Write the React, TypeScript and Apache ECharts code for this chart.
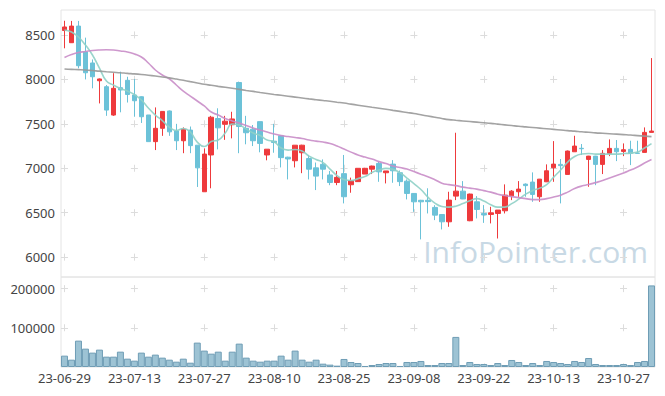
import { useEffect, useRef } from "react";
import * as echarts from "echarts";

const dates = [
  "23-06-29", "23-06-30", "23-07-03", "23-07-04", "23-07-05", "23-07-06", "23-07-07", "23-07-10", "23-07-11", "23-07-12",
  "23-07-13", "23-07-14", "23-07-17", "23-07-18", "23-07-19", "23-07-20", "23-07-21", "23-07-24", "23-07-25", "23-07-26",
  "23-07-27", "23-07-28", "23-07-31", "23-08-01", "23-08-02", "23-08-03", "23-08-04", "23-08-07", "23-08-08", "23-08-09",
  "23-08-10", "23-08-11", "23-08-14", "23-08-16", "23-08-17", "23-08-18", "23-08-21", "23-08-22", "23-08-23", "23-08-24",
  "23-08-25", "23-08-28", "23-08-29", "23-08-30", "23-08-31", "23-09-01", "23-09-04", "23-09-05", "23-09-06", "23-09-07",
  "23-09-08", "23-09-11", "23-09-12", "23-09-13", "23-09-14", "23-09-15", "23-09-18", "23-09-19", "23-09-20", "23-09-21",
  "23-09-22", "23-09-25", "23-09-26", "23-09-27", "23-10-04", "23-10-05", "23-10-06", "23-10-10", "23-10-11", "23-10-12",
  "23-10-13", "23-10-16", "23-10-17", "23-10-18", "23-10-19", "23-10-20", "23-10-23", "23-10-24", "23-10-25", "23-10-26",
  "23-10-27", "23-10-30", "23-10-31", "23-11-01", "23-11-02",
];

// [open, close, low, high]
const candles = [
  [8550, 8590, 8350, 8660], [8413, 8600, 8410, 8658], [8600, 8154, 8125, 8658], [8310, 8075, 8000, 8470], [8185, 8030, 7900, 8225],
  [7985, 8005, 7730, 8010], [7918, 7655, 7590, 7937], [7599, 7900, 7590, 8070], [7907, 7881, 7630, 8087], [7990, 7830, 7740, 8030],
  [7825, 7760, 7580, 8005], [7805, 7580, 7510, 7810], [7600, 7300, 7300, 7600], [7300, 7450, 7205, 7685], [7450, 7640, 7365, 7640],
  [7645, 7410, 7365, 7650], [7420, 7310, 7205, 7500], [7310, 7440, 7170, 7460], [7430, 7255, 7170, 7470], [7260, 7005, 6790, 7260],
  [6736, 7160, 6736, 7224], [7150, 7575, 6775, 7590], [7560, 7455, 7213, 7675], [7495, 7530, 7320, 7590], [7490, 7555, 7337, 7636],
  [7965, 7470, 7170, 7975], [7450, 7400, 7270, 7590], [7440, 7310, 7250, 7487], [7525, 7280, 7180, 7525], [7150, 7215, 7090, 7215],
  [7305, 7290, 7175, 7500], [7365, 7120, 7010, 7370], [7125, 7105, 6875, 7130], [7085, 7260, 7010, 7260], [7175, 7260, 6945, 7265],
  [7110, 6990, 6875, 7150], [7005, 6912, 6755, 7065], [7045, 6990, 6875, 7100], [6925, 6840, 6810, 6970], [6840, 6898, 6810, 6970],
  [6940, 6680, 6605, 7150], [6815, 6860, 6725, 6895], [6850, 7000, 6848, 7000], [6935, 7000, 6935, 7005], [6990, 7025, 6935, 7030],
  [7055, 6960, 6848, 7075], [6950, 6970, 6830, 6970], [7047, 6972, 6837, 7092], [6950, 6850, 6800, 6975], [6855, 6717, 6650, 6875],
  [6717, 6623, 6510, 6720], [6640, 6623, 6200, 6645], [6640, 6625, 6492, 6775], [6560, 6473, 6417, 6585], [6480, 6398, 6312, 6485],
  [6398, 6642, 6342, 6736], [6687, 6743, 6642, 7400], [6743, 6655, 6653, 6856], [6410, 6710, 6405, 6715], [6623, 6537, 6436, 6687],
  [6492, 6475, 6386, 6586], [6481, 6499, 6380, 6567], [6492, 6530, 6210, 6530], [6522, 6698, 6492, 6819], [6690, 6743, 6642, 6755],
  [6736, 6766, 6679, 6856], [6822, 6805, 6680, 6830], [6845, 6706, 6623, 6954], [6680, 6878, 6623, 6880], [6848, 6972, 6845, 7044],
  [7006, 7047, 6848, 7306], [7044, 7030, 6605, 7104], [6931, 7194, 6930, 7200], [7186, 7250, 7186, 7366], [7225, 7220, 7149, 7273],
  [7100, 7137, 6792, 7140], [7137, 7044, 6810, 7140], [7044, 7168, 6935, 7205], [7168, 7224, 7137, 7325], [7224, 7186, 7081, 7318],
  [7190, 7209, 7137, 7280], [7213, 7168, 7036, 7310], [7172, 7168, 7165, 7310], [7179, 7404, 7179, 7460], [7404, 7419, 7404, 8240],
];

const volumes = [
  29000, 18700, 67400, 46900, 36700, 44400, 26400, 26400, 39200, 21300,
  16200, 36700, 26400, 31600, 23900, 18700, 13600, 21300, 11000, 62300,
  41900, 34100, 39200, 16200, 39200, 59700, 23900, 16200, 13600, 16200,
  16200, 29000, 18700, 41900, 18700, 13600, 18700, 8500, 6000, 3400,
  20500, 12800, 10200, 2600, 5100, 7700, 10200, 10200, 2600, 12800,
  12800, 15400, 5100, 5100, 10200, 10200, 76900, 5100, 12800, 7700,
  7700, 5100, 10200, 5100, 17900, 12800, 5100, 10200, 5100, 15400,
  12800, 10200, 7700, 15400, 12800, 23000, 7700, 5100, 5100, 5100,
  7700, 5100, 12800, 15400, 208500,
];

const ma5 = [
  8556, 8534, 8477, 8387, 8275, 8128, 7982, 7937, 7898, 7869,
  7830, 7768, 7678, 7599, 7537, 7464, 7425, 7447, 7408, 7295,
  7245, 7301, 7318, 7397, 7498, 7487, 7441, 7397, 7368, 7318,
  7299, 7228, 7205, 7211, 7194, 7137, 7100, 7064, 6991, 6918,
  6873, 6862, 6884, 6907, 6952, 6980, 6999, 6988, 6952, 6890,
  6828, 6761, 6676, 6609, 6570, 6563, 6574, 6603, 6634, 6659,
  6631, 6591, 6563, 6563, 6603, 6653, 6709, 6749, 6777, 6816,
  6901, 6980, 7070, 7132, 7160, 7166, 7160, 7160, 7160, 7160,
  7166, 7171, 7183, 7228, 7278,
];

const ma20 = [
  8247, 8280, 8303, 8314, 8325, 8331, 8333, 8331, 8320, 8309,
  8286, 8252, 8185, 8106, 8050, 8005, 7937, 7869, 7813, 7757,
  7701, 7633, 7599, 7560, 7532, 7509, 7481, 7453, 7430, 7408,
  7385, 7368, 7357, 7346, 7335, 7318, 7306, 7295, 7278, 7250,
  7216, 7182, 7149, 7126, 7104, 7075, 7053, 7025, 7008, 6991,
  6963, 6934, 6906, 6872, 6833, 6816, 6805, 6788, 6777, 6766,
  6749, 6732, 6709, 6693, 6681, 6670, 6659, 6648, 6648, 6659,
  6676, 6698, 6732, 6772, 6800, 6817, 6839, 6862, 6890, 6918,
  6946, 6980, 7014, 7059, 7098,
];

const ma120 = [
  8117, 8113, 8110, 8106, 8100, 8093, 8087, 8081, 8075, 8068,
  8062, 8055, 8047, 8038, 8028, 8017, 8004, 7990, 7975, 7960,
  7945, 7934, 7922, 7911, 7900, 7888, 7876, 7865, 7853, 7842,
  7831, 7821, 7811, 7801, 7791, 7781, 7772, 7763, 7754, 7744,
  7734, 7722, 7710, 7698, 7686, 7675, 7664, 7652, 7640, 7628,
  7616, 7602, 7588, 7574, 7560, 7548, 7540, 7533, 7526, 7519,
  7512, 7505, 7497, 7489, 7481, 7473, 7466, 7459, 7452, 7445,
  7438, 7431, 7424, 7418, 7411, 7405, 7399, 7394, 7389, 7384,
  7379, 7374, 7368, 7362, 7356,
];

const priceMin = 5777;
const priceMax = 8781;
const volMax = 230000;

export default function App() {
  const ref = useRef<HTMLDivElement>(null);

  useEffect(() => {
    const chart = echarts.init(ref.current!, undefined, { renderer: "svg" });
    const gridColor = "#e4e4e4";
    const crossColor = "#dcdcdc";
    const labelStyle = { fontFamily: "Noto Sans", fontSize: 13, color: "#444" };
    const plain = (v: number) => String(v);
    chart.setOption({
      animation: false,
      backgroundColor: "#ffffff",
      grid: [
        { left: 61, right: 10, top: 10, height: 267, show: true, borderColor: gridColor, borderWidth: 1 },
        { left: 61, right: 10, top: 277, height: 90, show: true, borderColor: gridColor, borderWidth: 1 },
      ],
      xAxis: [
        {
          type: "category",
          gridIndex: 0,
          data: dates,
          boundaryGap: true,
          axisLine: { show: false },
          axisTick: { show: false },
          axisLabel: { show: false, interval: 9 },
          splitLine: {
            show: true,
            interval: 9,
            alignWithLabel: true,
            lineStyle: { color: crossColor, width: 1, type: [7, 37.44], dashOffset: 22.96 },
          },
        },
        {
          type: "category",
          gridIndex: 1,
          data: dates,
          boundaryGap: true,
          axisLine: { show: false },
          axisTick: { show: false },
          axisLabel: { ...labelStyle, interval: 9, margin: 4 },
          splitLine: {
            show: true,
            interval: 9,
            alignWithLabel: true,
            lineStyle: { color: crossColor, width: 1, type: [7, 32.13], dashOffset: 30.89 },
          },
        },
      ],
      yAxis: [
        {
          type: "value",
          gridIndex: 0,
          min: priceMin,
          max: priceMax,
          axisLine: { show: false },
          axisTick: { show: false },
          axisLabel: { ...labelStyle, margin: 6, showMinLabel: false, showMaxLabel: false, formatter: plain },
          splitLine: {
            show: true,
            showMinLine: false,
            showMaxLine: false,
            lineStyle: { color: crossColor, width: 1, type: [7, 62.88], dashOffset: 0 },
          },
        },
        {
          type: "value",
          gridIndex: 1,
          min: 0,
          max: volMax,
          interval: 100000,
          axisLine: { show: false },
          axisTick: { show: false },
          axisLabel: { ...labelStyle, margin: 6, showMinLabel: false, showMaxLabel: false, formatter: plain },
          splitLine: {
            show: true,
            showMinLine: false,
            showMaxLine: false,
            lineStyle: { color: crossColor, width: 1, type: [7, 62.88], dashOffset: 0 },
          },
        },
      ],
      graphic: [
        {
          type: "text",
          right: 17,
          top: 236,
          z: 0,
          style: {
            text: "InfoPointer.com",
            font: '30px "Open Sans"',
            fill: "#c8d9e5",
          },
        },
      ],
      series: [
        {
          type: "candlestick",
          xAxisIndex: 0,
          yAxisIndex: 0,
          data: candles,
          barWidth: 5,
          itemStyle: {
            color: "#ee3a3c",
            color0: "#6cc2d8",
            borderColor: "#ee3a3c",
            borderColor0: "#6cc2d8",
            borderWidth: 1,
          },
        },
        {
          type: "line",
          name: "MA5",
          xAxisIndex: 0,
          yAxisIndex: 0,
          data: ma5,
          smooth: true,
          symbol: "none",
          lineStyle: { color: "#8fd0c6", width: 1.6, opacity: 0.9 },
        },
        {
          type: "line",
          name: "MA20",
          xAxisIndex: 0,
          yAxisIndex: 0,
          data: ma20,
          smooth: true,
          symbol: "none",
          lineStyle: { color: "#c98dc8", width: 1.6, opacity: 0.9 },
        },
        {
          type: "line",
          name: "MA120",
          xAxisIndex: 0,
          yAxisIndex: 0,
          data: ma120,
          smooth: true,
          symbol: "none",
          lineStyle: { color: "#999999", width: 1.6, opacity: 0.9 },
        },
        {
          type: "bar",
          xAxisIndex: 1,
          yAxisIndex: 1,
          data: volumes,
          barWidth: "100%",
          itemStyle: { color: "#9dc3d4", borderColor: "#6f9db5", borderWidth: 1 },
        },
      ],
    });
    return () => chart.dispose();
  }, []);

  return (
    <div
      ref={ref}
      style={{ position: "fixed", left: 0, top: 0, width: 665, height: 396 }}
    />
  );
}
